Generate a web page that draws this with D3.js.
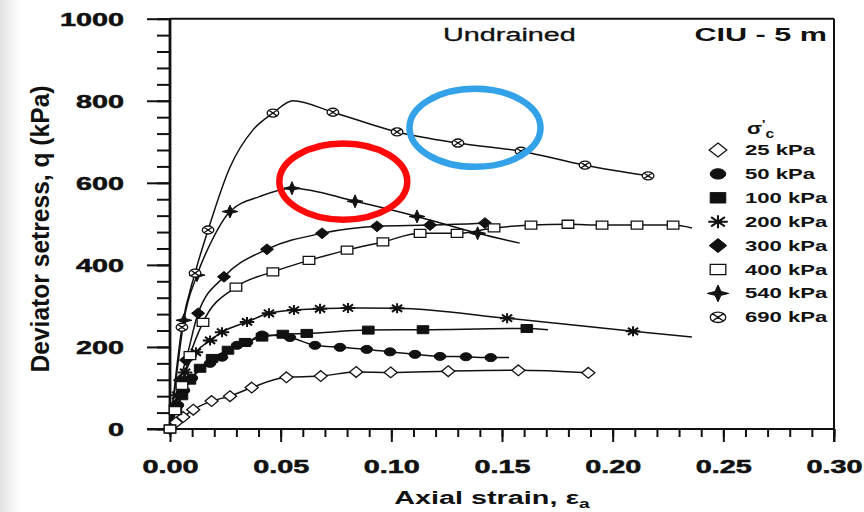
<!DOCTYPE html>
<html>
<head>
<meta charset="utf-8">
<script src="https://cdn.jsdelivr.net/npm/d3@7"></script>
<style>
  html, body { margin: 0; padding: 0; background: #fff; }
  svg { display: block; }
</style>
</head>
<body>
<svg id="chart" width="864" height="512"></svg>
<script>
// Undrained triaxial (CIU) tests, sample depth 5 m:
// deviator stress q (kPa) against axial strain for each confining pressure.

const confiningLabels = ["25 kPa", "50 kPa", "100 kPa", "200 kPa", "300 kPa", "400 kPa", "540 kPa", "690 kPa"];
const markerKinds     = ["diamondOpen", "circle", "square", "asterisk", "diamond", "squareOpen", "star4", "circleCross"];

const strain25 = [0, 0.0027, 0.006, 0.0105, 0.0188, 0.0271, 0.0369, 0.0526, 0.0681, 0.0841, 0.0997, 0.1257, 0.1574, 0.189];
const q25      = [0, 16, 29, 47, 68, 80, 101, 126, 129, 139, 138, 141, 143, 137];
const marked25 = [0, 1, 2, 3, 4, 5, 6, 7, 8, 9, 10, 11, 12, 13];

const strain50 = [0, 0.0036, 0.0063, 0.0099, 0.0181, 0.0235, 0.0303, 0.0348, 0.0416, 0.0542, 0.0655, 0.0768, 0.0889, 0.0994, 0.1107, 0.122, 0.1337, 0.1449, 0.1532];
const q50      = [0, 58, 94, 124, 160, 175, 204, 211, 229, 223, 204, 199, 194, 188, 182, 177, 176, 174, 174];
const marked50 = [0, 1, 2, 3, 4, 5, 6, 7, 8, 9, 10, 11, 12, 13, 14, 15, 16, 17];

const strain100 = [0, 0.0027, 0.0054, 0.009, 0.0136, 0.019, 0.0262, 0.0339, 0.0416, 0.051, 0.0618, 0.0896, 0.1143, 0.1612, 0.1708];
const q100      = [0, 45, 81, 119, 148, 172, 192, 211, 224, 231, 233, 241, 242, 245, 242];
const marked100 = [0, 1, 2, 3, 4, 5, 6, 7, 8, 9, 10, 11, 12, 13];

const strain200 = [0, 0.0032, 0.0068, 0.0117, 0.0181, 0.0235, 0.0348, 0.0447, 0.056, 0.0678, 0.0804, 0.1026, 0.1523, 0.2092, 0.2358];
const q200      = [0, 82, 138, 187, 216, 236, 261, 282, 290, 293, 295, 294, 270, 238, 224];
const marked200 = [0, 1, 2, 3, 4, 5, 6, 7, 8, 9, 10, 11, 12, 13];

const strain300 = [0, 0.0023, 0.0045, 0.0072, 0.0127, 0.0244, 0.0438, 0.0687, 0.0935, 0.1175, 0.1423, 0.145];
const q300      = [0, 58, 119, 168, 282, 371, 438, 477, 494, 497, 502, 503];
const marked300 = [0, 1, 2, 3, 4, 5, 6, 7, 8, 9, 10];

const strain400 = [0, 0.0023, 0.0054, 0.009, 0.0149, 0.0298, 0.0465, 0.0628, 0.08, 0.0962, 0.113, 0.1297, 0.1464, 0.1631, 0.1798, 0.1952, 0.211, 0.2273, 0.2358];
const q400      = [0, 45, 106, 179, 260, 346, 383, 411, 436, 456, 477, 477, 490, 497, 499, 497, 497, 497, 490];
const marked400 = [0, 1, 2, 3, 4, 5, 6, 7, 8, 9, 10, 11, 12, 13, 14, 15, 16, 17];

const strain540 = [0, 0.0032, 0.0063, 0.0122, 0.019, 0.0271, 0.0407, 0.0551, 0.0836, 0.1116, 0.139, 0.158];
const q540      = [0, 143, 265, 375, 460, 530, 567, 587, 555, 518, 477, 453];
const marked540 = [2, 3, 5, 7, 8, 9, 10];

const strain690 = [0, 0.0054, 0.0113, 0.0172, 0.0271, 0.0375, 0.0465, 0.0556, 0.0736, 0.1026, 0.1301, 0.1586, 0.1875, 0.216];
const q690      = [0, 248, 380, 485, 638, 729, 770, 800, 772, 724, 697, 677, 643, 617];
const marked690 = [1, 2, 3, 6, 8, 9, 10, 11, 12, 13];

const strainTickValues = [0, 0.05, 0.10, 0.15, 0.20, 0.25, 0.30];
const strainTickLabels = ["0.00", "0.05", "0.10", "0.15", "0.20", "0.25", "0.30"];
const qTickValues = [0, 200, 400, 600, 800, 1000];
const qTickLabels = ["0", "200", "400", "600", "800", "1000"];

// highlight rings: centre (strain, q) and half-widths (strain, q)
const ringCentreStrain = [0.0783, 0.1378];
const ringCentreQ      = [603, 734];
const ringHalfStrain   = [0.0289, 0.0296];
const ringHalfQ        = [93, 95];
const ringColours      = ["#ff0a0a", "#33a2e8"];

// ---------------------------------------------------------------------------
const W = 864, H = 512;
const TX = 1.6;                       // horizontal glyph stretch used throughout
const FONT = "'Liberation Sans', Arial, Helvetica, sans-serif";

const strainSets = [strain25, strain50, strain100, strain200, strain300, strain400, strain540, strain690];
const qSets      = [q25, q50, q100, q200, q300, q400, q540, q690];
const markedSets = [marked25, marked50, marked100, marked200, marked300, marked400, marked540, marked690];

const series = confiningLabels.map((label, i) => ({
  label,
  kind: markerKinds[i],
  points: strainSets[i].map((e, j) => [e, qSets[i][j]]),
  marked: markedSets[i]
}));

const svg = d3.select("#chart");
const x = d3.scaleLinear().domain([0, 0.30]).range([170, 834]);
const y = d3.scaleLinear().domain([0, 1000]).range([429, 18.7]);

// page background with the soft grey left margin
const defs = svg.append("defs");
const edge = defs.append("linearGradient").attr("id", "edgeShade").attr("x1", 0).attr("x2", 1);
edge.append("stop").attr("offset", 0).attr("stop-color", "#e2e2e2");
edge.append("stop").attr("offset", 1).attr("stop-color", "#ffffff");
svg.append("rect").attr("width", W).attr("height", H).attr("fill", "#ffffff");
svg.append("rect").attr("width", 20).attr("height", H).attr("fill", "url(#edgeShade)");

// ---- marker shapes (custom d3 symbol types; size = radius) ----
const symbolTypes = {
  circle:      { draw(c, r) { c.moveTo(r, 0); c.arc(0, 0, r, 0, 2 * Math.PI); } },
  square:      { draw(c, r) { c.rect(-r, -r, 2 * r, 2 * r); } },
  squareOpen:  { draw(c, r) { c.rect(-r, -r, 2 * r, 2 * r); } },
  diamond:     { draw(c, r) { c.moveTo(0, -r * 1.2); c.lineTo(r, 0); c.lineTo(0, r * 1.2); c.lineTo(-r, 0); c.closePath(); } },
  diamondOpen: { draw(c, r) { c.moveTo(0, -r * 1.2); c.lineTo(r, 0); c.lineTo(0, r * 1.2); c.lineTo(-r, 0); c.closePath(); } },
  asterisk:    { draw(c, r) {
      for (let k = 0; k < 4; k++) {
        const a = k * Math.PI / 4, dx = Math.cos(a) * r, dy = Math.sin(a) * r;
        c.moveTo(dx, dy); c.lineTo(-dx, -dy);
      }
  } },
  star4:       { draw(c, r) {
      const t = r * 0.3;
      c.moveTo(0, -r * 1.3); c.lineTo(t, -t); c.lineTo(r * 1.1, 0); c.lineTo(t, t);
      c.lineTo(0, r * 1.3); c.lineTo(-t, t); c.lineTo(-r * 1.1, 0); c.lineTo(-t, -t); c.closePath();
  } },
  circleCross: { draw(c, r) {
      c.moveTo(r, 0); c.arc(0, 0, r, 0, 2 * Math.PI);
      const d = r * 0.7;
      c.moveTo(-d, -d); c.lineTo(d, d); c.moveTo(d, -d); c.lineTo(-d, d);
  } }
};
const markerStyle = {
  circle:      { fill: "#111", stroke: "#111", width: 1 },
  square:      { fill: "#111", stroke: "#111", width: 1 },
  squareOpen:  { fill: "#fff", stroke: "#111", width: 1.3 },
  diamond:     { fill: "#111", stroke: "#111", width: 1 },
  diamondOpen: { fill: "#fff", stroke: "#111", width: 1.3 },
  asterisk:    { fill: "none", stroke: "#111", width: 2 },
  star4:       { fill: "#111", stroke: "#111", width: 1 },
  circleCross: { fill: "#fff", stroke: "#111", width: 1.3 }
};
const markerRadius = { circle: 4, square: 4, squareOpen: 4, diamond: 4.5, diamondOpen: 4.5,
                       asterisk: 5, star4: 5, circleCross: 4 };

function drawMarker(sel, kind, scale) {
  const st = markerStyle[kind];
  sel.append("path")
    .attr("d", d3.symbol().type(symbolTypes[kind]).size(markerRadius[kind] * scale)())
    .attr("fill", st.fill)
    .attr("stroke", st.stroke)
    .attr("stroke-width", st.width)
    .attr("vector-effect", "non-scaling-stroke");
}

// ---- axes ----
const axisStyle = g => {
  g.attr("font-family", FONT).attr("font-size", 18).attr("font-weight", "bold");
  g.selectAll("line").attr("stroke", "#111").attr("stroke-width", 2);
  g.selectAll(".domain").remove();
};

// y axis: minor ticks every 40 kPa, labelled ticks every 200 kPa
svg.append("g").attr("transform", `translate(${x(0)},0)`)
  .call(d3.axisLeft(y).tickValues(d3.range(0, 1001, 40)).tickSize(13).tickFormat(""))
  .call(axisStyle);
const gy = svg.append("g").attr("transform", `translate(${x(0)},0)`)
  .call(d3.axisLeft(y).tickValues(qTickValues).tickSize(23)
        .tickFormat((d, i) => qTickLabels[i]))
  .call(axisStyle);
gy.selectAll(".tick text")
  .attr("x", null).attr("dy", "0.36em").attr("fill", "#111")
  .attr("stroke", "#111").attr("stroke-width", 0.5)
  .attr("text-anchor", "end")
  .attr("transform", `translate(-46,0) scale(${TX},1)`);

// x axis: minor ticks every 0.01, labelled every 0.05
svg.append("g").attr("transform", `translate(0,${y(0)})`)
  .call(d3.axisBottom(x).tickValues(d3.range(0, 31).map(i => i / 100)).tickSize(8).tickFormat(""))
  .call(axisStyle);
const gx = svg.append("g").attr("transform", `translate(0,${y(0)})`)
  .call(d3.axisBottom(x).tickValues(strainTickValues).tickSize(13)
        .tickFormat((d, i) => strainTickLabels[i]))
  .call(axisStyle);
gx.selectAll(".tick text")
  .attr("y", null).attr("dy", null).attr("fill", "#111")
  .attr("stroke", "#111").attr("stroke-width", 0.5)
  .attr("text-anchor", "middle")
  .attr("transform", `translate(0,44) scale(${TX},1)`);

// frame
const frame = svg.append("g").attr("stroke", "#111").attr("fill", "none");
frame.append("line").attr("x1", x(0)).attr("x2", x(0)).attr("y1", y(1000)).attr("y2", y(0)).attr("stroke-width", 2.8);
frame.append("line").attr("x1", x(0) - 23).attr("x2", x(0.30)).attr("y1", y(0)).attr("y2", y(0)).attr("stroke-width", 2.2);
frame.append("line").attr("x1", x(0)).attr("x2", x(0.30)).attr("y1", y(1000)).attr("y2", y(1000)).attr("stroke-width", 2);
frame.append("line").attr("x1", x(0.30)).attr("x2", x(0.30)).attr("y1", y(1000)).attr("y2", y(0) + 13).attr("stroke-width", 2);

// ---- curves ----
const line = d3.line().x(d => x(d[0])).y(d => y(d[1])).curve(d3.curveMonotoneX);
const plot = svg.append("g");
series.forEach(s => {
  plot.append("path").attr("d", line(s.points))
    .attr("fill", "none").attr("stroke", "#111").attr("stroke-width", 1.5);
});
series.forEach(s => {
  s.marked.forEach(j => {
    const p = s.points[j];
    const g = plot.append("g").attr("transform", `translate(${x(p[0])},${y(p[1])}) scale(1.45,1)`);
    drawMarker(g, s.kind, 1);
  });
});

// ---- legend ----
const legend = svg.append("g").attr("font-family", FONT).attr("fill", "#111");
const sig = legend.append("text").attr("transform", `translate(747,134) scale(1.3,1)`)
  .attr("font-size", 17).attr("font-weight", "bold");
sig.append("tspan").text("σ");
sig.append("tspan").attr("font-size", 11).attr("dy", -6).text("'");
sig.append("tspan").attr("font-size", 12).attr("dy", 10).text("c");

series.forEach((s, i) => {
  const ry = 150 + i * 23.9;
  const g = legend.append("g").attr("transform", `translate(718,${ry}) scale(1.5,1)`);
  drawMarker(g, s.kind, 1.3);
  legend.append("text")
    .attr("transform", `translate(745,${ry + 5}) scale(1.58,1)`)
    .attr("font-size", 14).attr("font-weight", "bold")
    .text(s.label);
});

// ---- titles ----
svg.append("text").attr("font-family", FONT).attr("font-size", 18).attr("fill", "#111")
  .attr("stroke", "#111").attr("stroke-width", 0.3)
  .attr("transform", `translate(443,41) scale(${TX},1)`).text("Undrained");
svg.append("text").attr("font-family", FONT).attr("font-size", 18).attr("font-weight", "bold").attr("fill", "#111")
  .attr("text-anchor", "end")
  .attr("transform", `translate(827,41) scale(1.7,1)`).text("CIU - 5 m");

const xt = svg.append("text").attr("font-family", FONT).attr("font-size", 18).attr("font-weight", "bold")
  .attr("fill", "#111").attr("text-anchor", "middle")
  .attr("transform", `translate(492,504) scale(${TX},1)`);
xt.append("tspan").text("Axial strain, ε");
xt.append("tspan").attr("font-size", 12).attr("dy", 4).text("a");

svg.append("text").attr("font-family", FONT).attr("font-size", 25).attr("font-weight", "bold")
  .attr("fill", "#111").attr("text-anchor", "middle")
  .attr("textLength", 287).attr("lengthAdjust", "spacingAndGlyphs")
  .attr("transform", `translate(49,229) rotate(-90)`)
  .text("Deviator setress, q  (kPa)");

// ---- highlight rings ----
ringColours.forEach((c, i) => {
  svg.append("ellipse")
    .attr("cx", x(ringCentreStrain[i])).attr("cy", y(ringCentreQ[i]))
    .attr("rx", x(ringHalfStrain[i]) - x(0)).attr("ry", y(0) - y(ringHalfQ[i]))
    .attr("fill", "none").attr("stroke", c).attr("stroke-width", 6.5);
});
</script>
</body>
</html>
